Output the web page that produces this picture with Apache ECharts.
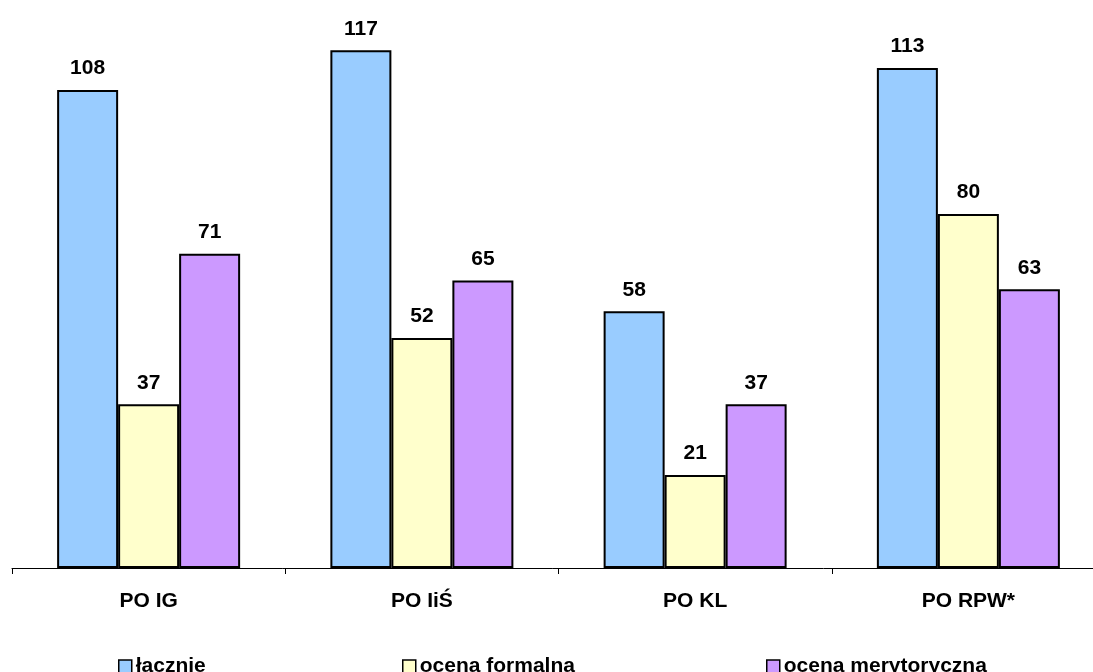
<!DOCTYPE html>
<html><head><meta charset="utf-8">
<script src="https://cdn.jsdelivr.net/npm/echarts@6/dist/echarts.min.js"></script>
<style>html,body{margin:0;padding:0;background:#fff}#c{width:1093px;height:672px}</style>
</head><body><div id="c"></div>
<script>
const categories = ['PO IG', 'PO IiŚ', 'PO KL', 'PO RPW*'];
const seriesNames = ['łącznie', 'ocena formalna', 'ocena merytoryczna'];
const lacznie = [108, 117, 58, 113];
const formalna = [37, 52, 21, 80];
const merytoryczna = [71, 65, 37, 63];
const colors = ['#99CCFF', '#FFFFCC', '#CC99FF'];
const values = [lacznie, formalna, merytoryczna];
const font = '"Liberation Sans", Arial, sans-serif';

const chart = echarts.init(document.getElementById('c'), null, {renderer: 'canvas'});
const legendLefts = [118, 402, 766];
chart.setOption({
  animation: false,
  backgroundColor: '#fff',
  grid: {left: 12, width: 1093, top: 37, bottom: 104, containLabel: false, outerBoundsMode: 'none'},
  xAxis: {
    type: 'category', data: categories,
    axisLine: {lineStyle: {color: '#000', width: 1}},
    axisTick: {show: true, length: 6, lineStyle: {color: '#000'}},
    axisLabel: {color: '#000', fontWeight: 'bold', fontSize: 21, fontFamily: font, margin: 23}
  },
  yAxis: {type: 'value', min: 0, max: 120, show: false, splitLine: {show: false}},
  legend: seriesNames.map((n, i) => ({
    data: [n], left: legendLefts[i], top: 656, padding: 0, itemWidth: 13, itemHeight: 13, itemGap: 0,
    icon: 'rect',
    textStyle: {color: '#000', fontWeight: 'bold', fontSize: 21, fontFamily: font, padding: [0,0,0,-1]},
    itemStyle: {borderColor: '#000', borderWidth: 1.5}
  })),
  series: values.map((v, i) => ({
    name: seriesNames[i], type: 'bar', data: v,
    barWidth: 61, barGap: '0%',
    itemStyle: {color: colors[i], borderColor: '#000', borderWidth: 2},
    label: {show: true, position: 'top', distance: 11, color: '#000', fontWeight: 'bold', fontSize: 21, fontFamily: font}
  }))
});
</script></body></html>
